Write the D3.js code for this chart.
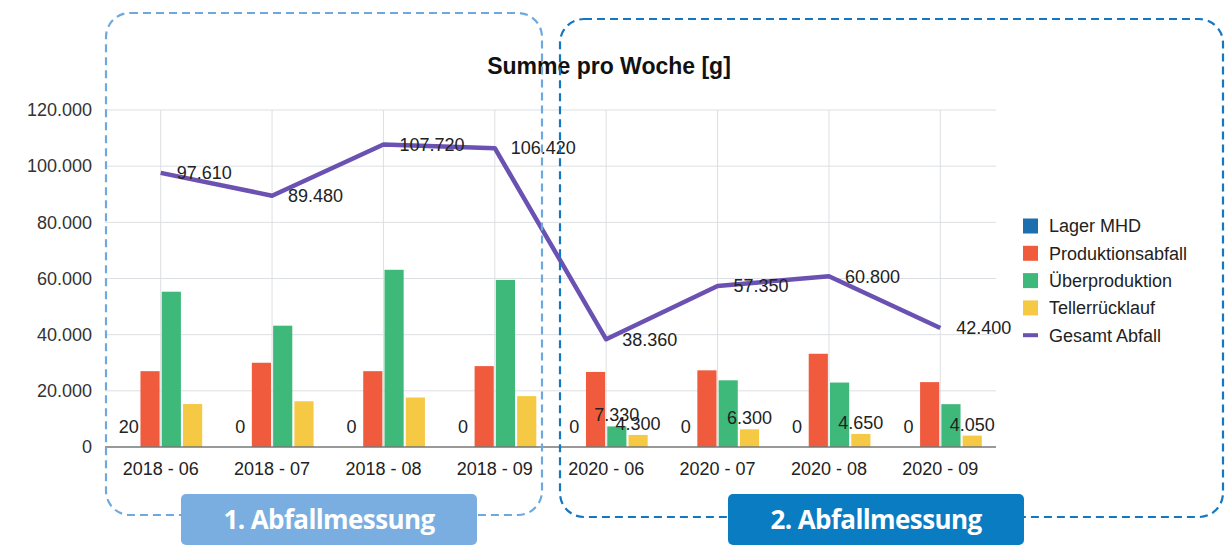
<!DOCTYPE html>
<html>
<head>
<meta charset="utf-8">
<title>Summe pro Woche</title>
<script src="https://cdn.jsdelivr.net/npm/d3@7"></script>
<style>
  body { margin: 0; background: #fff; }
  text { font-family: "Liberation Sans", Arial, sans-serif; }
</style>
</head>
<body>
<svg id="chart" width="1225" height="551"></svg>
<script>
// data
var months = ['2018 - 06', '2018 - 07', '2018 - 08', '2018 - 09', '2020 - 06', '2020 - 07', '2020 - 08', '2020 - 09'];
var seriesNames = ['Lager MHD', 'Produktionsabfall', 'Überproduktion', 'Tellerrücklauf'];
var lagerMHD = [20, 0, 0, 0, 0, 0, 0, 0];
var produktionsabfall = [27000, 30000, 27000, 28800, 26730, 27300, 33200, 23100];
var ueberproduktion = [55300, 43200, 63100, 59500, 7330, 23750, 22950, 15250];
var tellerruecklauf = [15290, 16280, 17620, 18120, 4300, 6300, 4650, 4050];
var gesamtAbfall = [97610, 89480, 107720, 106420, 38360, 57350, 60800, 42400];
var yTicks = [0, 20000, 40000, 60000, 80000, 100000, 120000];
// which bar values carry a label in the original
var labelled = {
  'Lager MHD': [0, 1, 2, 3, 4, 5, 6, 7],
  'Überproduktion': [4],
  'Tellerrücklauf': [4, 5, 6, 7]
};
var phases = ['1. Abfallmessung', '2. Abfallmessung'];

var colors = ['#1b6fae', '#ef5b3c', '#3fb97a', '#f5c944'];
var lineColor = '#6a51b2';
var values = [lagerMHD, produktionsabfall, ueberproduktion, tellerruecklauf];

var de = d3.formatLocale({ decimal: ',', thousands: '.', grouping: [3], currency: ['', '€'] });
var fmt = de.format(',d');

var svg = d3.select('#chart');

var x = d3.scaleBand().domain(months).range([105, 996]);
var x1 = d3.scaleBand().domain(seriesNames).range([0, 83]).paddingInner(0.1);
var y = d3.scaleLinear().domain([0, 120000]).range([447, 110]);
var cx = function(m) { return x(m) + x.bandwidth() / 2; };

// grid
var grid = svg.append('g');
grid.selectAll('line.h')
  .data(yTicks.slice(1))
  .enter().append('line')
  .attr('x1', 105).attr('x2', 996)
  .attr('y1', function(d) { return y(d); }).attr('y2', function(d) { return y(d); })
  .attr('stroke', '#dcdfe3').attr('stroke-width', 1);
grid.selectAll('line.v')
  .data(months)
  .enter().append('line')
  .attr('x1', cx).attr('x2', cx)
  .attr('y1', y(120000)).attr('y2', y(0))
  .attr('stroke', '#dcdfe3').attr('stroke-width', 1);

// y axis labels
var yAxis = svg.append('g').attr('transform', 'translate(92,0)')
  .call(d3.axisLeft(y).tickValues(yTicks).tickSize(0).tickPadding(0).tickFormat(fmt));
yAxis.select('.domain').remove();
yAxis.selectAll('text').attr('font-size', 18).attr('fill', '#333')
  .style('font-family', '"Liberation Sans", Arial, sans-serif');

// bars
var groups = svg.append('g').selectAll('g')
  .data(months)
  .enter().append('g')
  .attr('transform', function(m) { return 'translate(' + (cx(m) - 41.5) + ',0)'; });

groups.selectAll('rect')
  .data(function(m, i) {
    return seriesNames.map(function(s, k) { return { s: s, k: k, i: i, v: values[k][i] }; });
  })
  .enter().append('rect')
  .attr('x', function(d) { return x1(d.s); })
  .attr('width', x1.bandwidth())
  .attr('y', function(d) { return y(d.v); })
  .attr('height', function(d) { return y(0) - y(d.v); })
  .attr('fill', function(d) { return colors[d.k]; });

groups.selectAll('text')
  .data(function(m, i) {
    return seriesNames
      .map(function(s, k) { return { s: s, k: k, i: i, v: values[k][i] }; })
      .filter(function(d) { return labelled[d.s] && labelled[d.s].indexOf(d.i) >= 0; });
  })
  .enter().append('text')
  .attr('x', function(d) { return x1(d.s) + x1.bandwidth() / 2; })
  .attr('y', function(d) { return Math.min(y(d.v), y(0) - 9) - 5; })
  .attr('text-anchor', 'middle')
  .attr('font-size', 18)
  .attr('fill', '#222')
  .text(function(d) { return fmt(d.v); });

// baseline
svg.append('line')
  .attr('x1', 105).attr('x2', 996)
  .attr('y1', y(0)).attr('y2', y(0))
  .attr('stroke', '#777').attr('stroke-width', 1.5);

// x labels
var xAxis = svg.append('g').attr('transform', 'translate(0,' + y(0) + ')')
  .call(d3.axisBottom(x).tickSize(0).tickPadding(15));
xAxis.select('.domain').remove();
xAxis.selectAll('text').attr('font-size', 18).attr('fill', '#222')
  .style('font-family', '"Liberation Sans", Arial, sans-serif');

// total line
var line = d3.line()
  .x(function(d, i) { return cx(months[i]); })
  .y(function(d) { return y(d); });

svg.append('path')
  .datum(gesamtAbfall)
  .attr('d', line)
  .attr('fill', 'none')
  .attr('stroke', lineColor)
  .attr('stroke-width', 4.5)
  .attr('stroke-linejoin', 'round');

svg.append('g').selectAll('text')
  .data(gesamtAbfall)
  .enter().append('text')
  .attr('x', function(d, i) { return cx(months[i]) + 16; })
  .attr('y', function(d) { return y(d); })
  .attr('dy', '0.35em')
  .attr('font-size', 18)
  .attr('fill', '#222')
  .text(function(d) { return fmt(d); });

// title
svg.append('text')
  .attr('x', 609).attr('y', 74)
  .attr('text-anchor', 'middle')
  .attr('font-size', 23)
  .attr('font-weight', 'bold')
  .attr('fill', '#111')
  .text('Summe pro Woche [g]');

// legend
var legend = svg.append('g').attr('transform', 'translate(1023,226)');
var legendItems = seriesNames.concat(['Gesamt Abfall']);
var li = legend.selectAll('g')
  .data(legendItems)
  .enter().append('g')
  .attr('transform', function(d, i) { return 'translate(0,' + (i * 27.3) + ')'; });
li.filter(function(d, i) { return i < 4; })
  .append('rect')
  .attr('x', 0).attr('y', -7.5).attr('width', 15).attr('height', 15)
  .attr('fill', function(d, i) { return colors[i]; });
li.filter(function(d, i) { return i === 4; })
  .append('rect')
  .attr('x', 0).attr('y', -2).attr('width', 15).attr('height', 4)
  .attr('fill', lineColor);
li.append('text')
  .attr('x', 26).attr('dy', '0.35em')
  .attr('font-size', 18)
  .attr('fill', '#222')
  .text(function(d) { return d; });

// dashed phase frames
svg.append('rect')
  .attr('x', 106).attr('y', 13).attr('width', 436).attr('height', 502)
  .attr('rx', 24).attr('fill', 'none')
  .attr('stroke', '#6fa8dc').attr('stroke-width', 2.2).attr('stroke-dasharray', '8,5');
svg.append('rect')
  .attr('x', 560).attr('y', 19).attr('width', 663).attr('height', 498)
  .attr('rx', 24).attr('fill', 'none')
  .attr('stroke', '#1577c0').attr('stroke-width', 2.2).attr('stroke-dasharray', '8,5');

// phase labels
var phaseBoxes = [{ x: 181, fill: '#7aaee0' }, { x: 728, fill: '#0a7cc2' }];
var pb = svg.append('g').selectAll('g')
  .data(phases)
  .enter().append('g')
  .attr('transform', function(d, i) { return 'translate(' + phaseBoxes[i].x + ',494)'; });
pb.append('rect')
  .attr('width', 296).attr('height', 51).attr('rx', 5)
  .attr('fill', function(d, i) { return phaseBoxes[i].fill; });
pb.append('text')
  .attr('x', 148).attr('y', 26).attr('dy', '0.36em')
  .attr('text-anchor', 'middle')
  .attr('font-size', 26)
  .attr('font-weight', 700)
  .attr('fill', '#fff')
  .style('font-family', '"Open Sans", sans-serif')
  .style('letter-spacing', '-0.6px')
  .text(function(d) { return d; });
</script>
</body>
</html>
